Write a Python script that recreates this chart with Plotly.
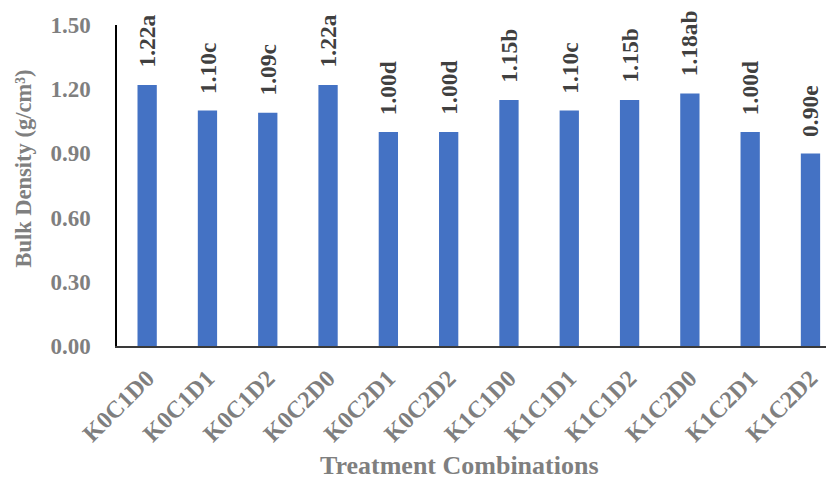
import plotly.graph_objects as go

categories = ["K0C1D0", "K0C1D1", "K0C1D2", "K0C2D0", "K0C2D1", "K0C2D2",
              "K1C1D0", "K1C1D1", "K1C1D2", "K1C2D0", "K1C2D1", "K1C2D2"]
values = [1.22, 1.10, 1.09, 1.22, 1.00, 1.00, 1.15, 1.10, 1.15, 1.18, 1.00, 0.90]
letters = ["a", "c", "c", "a", "d", "d", "b", "c", "b", "ab", "d", "e"]
y_ticks = [0.0, 0.3, 0.6, 0.9, 1.2, 1.5]

FONT = "Liberation Serif"
GRAY = "#7f7f7f"

fig = go.Figure()
fig.add_trace(go.Bar(
    x=categories, y=values,
    marker=dict(color="#4472C4", line=dict(width=0)),
    width=0.32,
))

for c, v, l in zip(categories, values, letters):
    fig.add_annotation(
        x=c, y=v, text=f"{v:.2f}{l}", showarrow=False,
        textangle=-90, yanchor="bottom", xanchor="center", yshift=15,
        font=dict(family=FONT, size=23.5, color="#404040", weight="bold"),
    )

fig.add_annotation(
    xref="paper", yref="paper", x=0.477, y=-0.371,
    text="Treatment Combinations", showarrow=False,
    xanchor="center", yanchor="middle",
    font=dict(family=FONT, size=26, color=GRAY, weight="bold"),
)
fig.add_annotation(
    xref="paper", yref="paper", x=-0.131, y=0.553,
    text="Bulk Density (g/cm³)", showarrow=False, textangle=-90,
    xanchor="center", yanchor="middle",
    font=dict(family=FONT, size=22.5, color=GRAY, weight="bold"),
)

fig.update_layout(
    width=826, height=475,
    margin=dict(l=109, r=0, t=17, b=137),
    paper_bgcolor="white", plot_bgcolor="white",
    showlegend=False,
    xaxis=dict(
        range=[-0.5, 11.39], tickangle=-45,
        showline=True, linecolor="#3a3a3a", linewidth=1.5,
        showgrid=False, ticks="", ticklabelstandoff=7,
        tickfont=dict(family=FONT, size=24, color=GRAY, weight="bold"),
    ),
    yaxis=dict(
        range=[0, 1.5], tickvals=y_ticks, ticktext=[f"{t:.2f}" for t in y_ticks],
        showline=True, linecolor="#000000", linewidth=1.5,
        showgrid=False, zeroline=False, ticks="", ticklabelstandoff=20,
        tickfont=dict(family=FONT, size=23, color=GRAY, weight="bold"),
    ),
)

fig.write_html("out.html")
